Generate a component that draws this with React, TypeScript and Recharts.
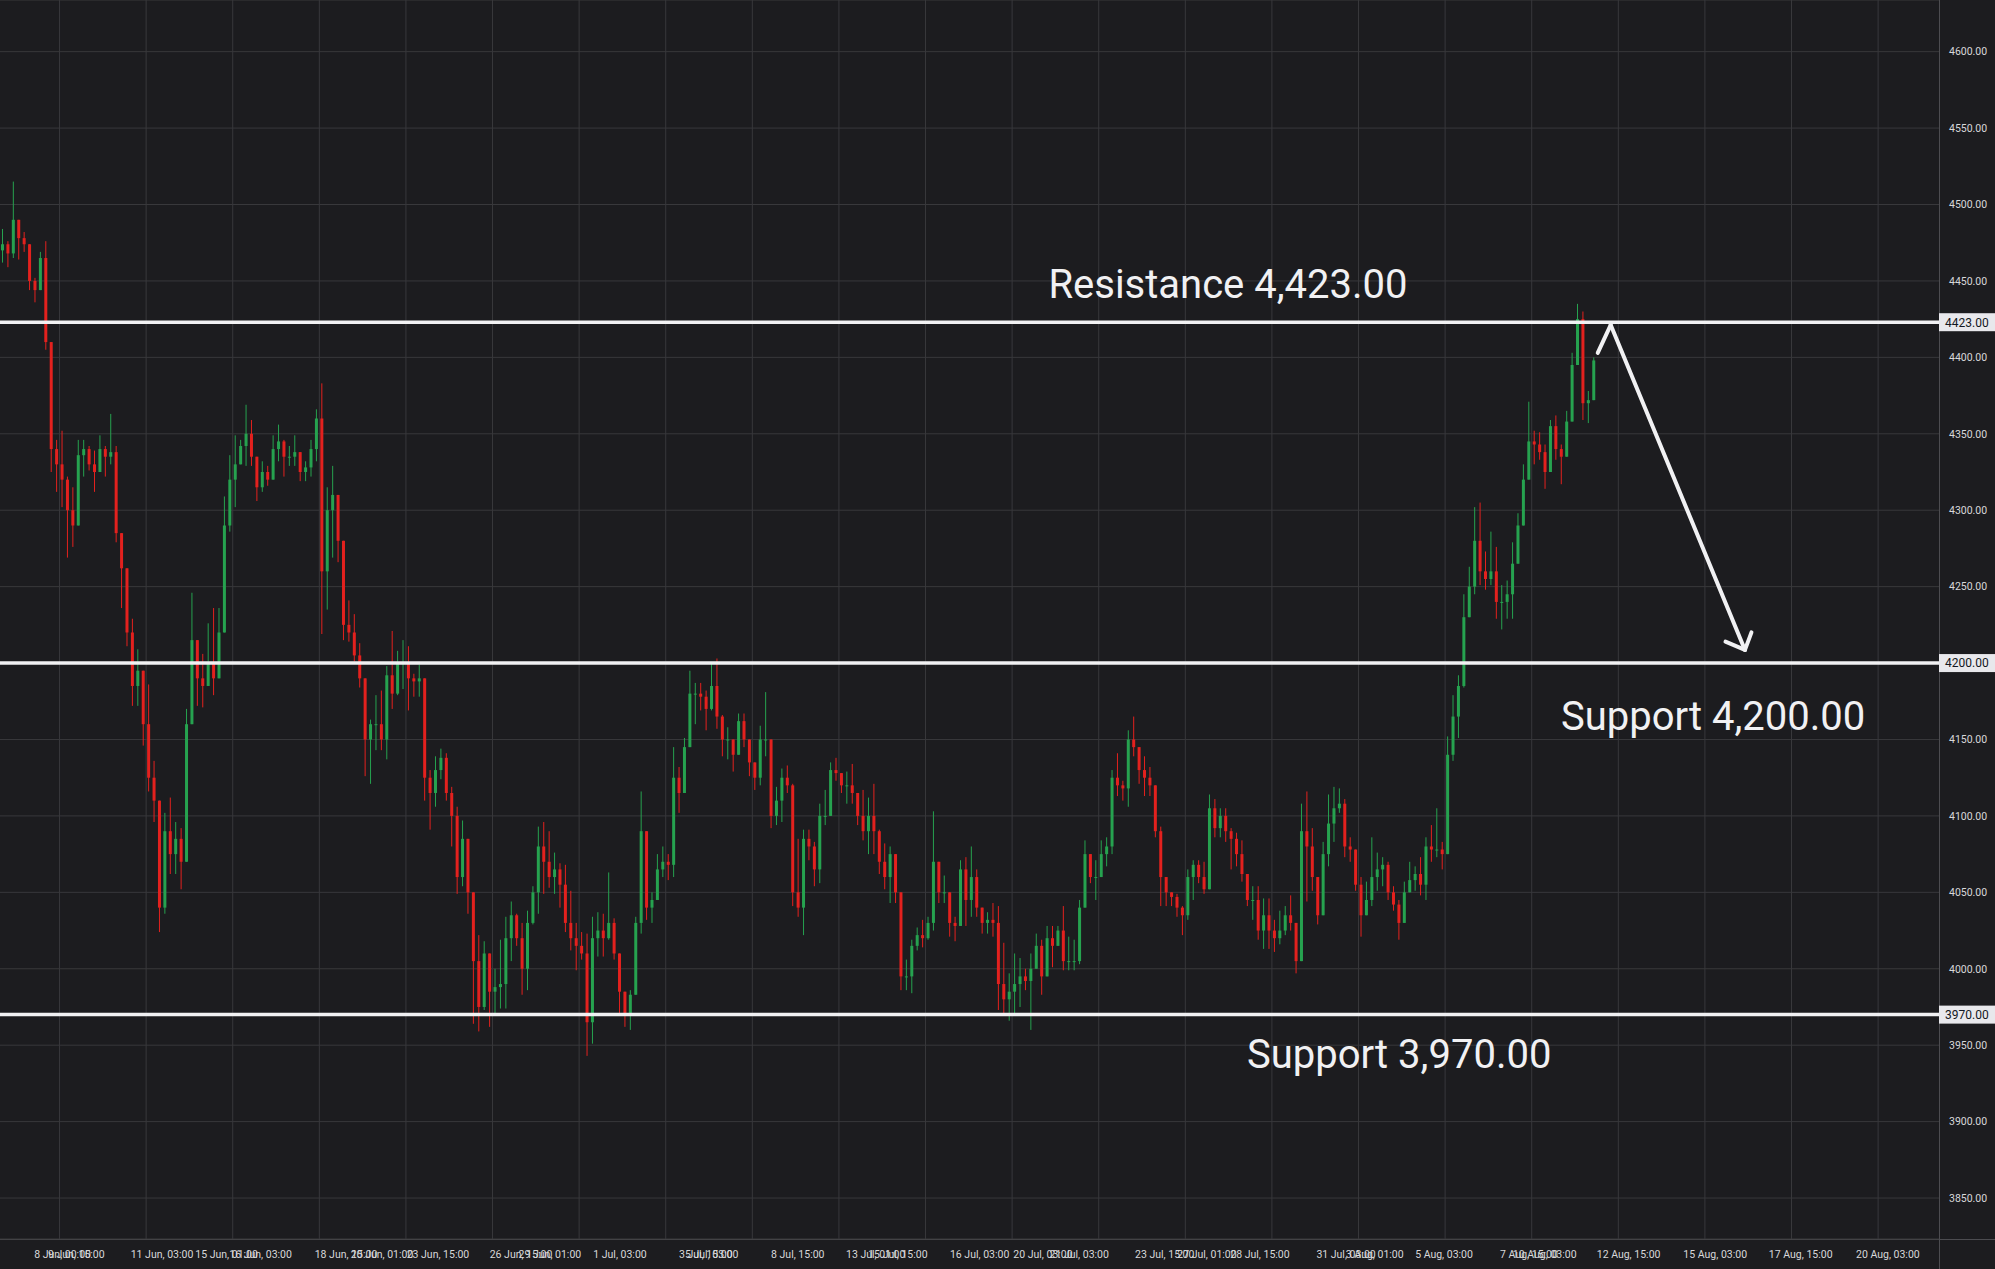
import React from 'react';
import {
  ComposedChart, Bar, XAxis, YAxis, CartesianGrid, ReferenceLine, ReferenceDot,
} from 'recharts';

const W = 1995;
const H = 1269;
const BG = '#1c1c1f';
const GRID = '#38383b';
const AXIS = '#4c4c50';
const TEXT = '#d8d8da';
const WHITE = '#f1f1f3';
const GREEN = '#26a24f';
const RED = '#e3211e';

const firstOpen = 4470;

// candles as [high, low, close]; each opens at the previous close
const juneA = [
  [4484, 4462, 4474], [4476, 4459, 4468], [4515, 4465, 4490], [4486, 4464, 4478], [4482, 4469, 4474], [4469, 4444, 4450], [4452, 4436, 4444], [4469, 4452, 4465],
  [4476, 4405, 4410], [4380, 4325, 4340], [4346, 4312, 4330], [4352, 4302, 4320], [4322, 4269, 4300], [4315, 4276, 4290], [4346, 4296, 4336], [4346, 4322, 4340],
  [4342, 4326, 4330], [4339, 4312, 4325], [4349, 4329, 4340], [4342, 4322, 4335], [4363, 4330, 4338], [4342, 4279, 4285], [4282, 4236, 4262], [4247, 4211, 4220],
  [4229, 4172, 4185], [4209, 4172, 4195], [4182, 4146, 4160], [4186, 4116, 4125], [4136, 4096, 4110], [4082, 4024, 4040], [4102, 4036, 4090], [4112, 4062, 4075],
  [4096, 4062, 4085], [4092, 4052, 4070], [4170, 4072, 4160], [4246, 4162, 4215], [4209, 4172, 4190], [4206, 4171, 4185], [4226, 4192, 4200], [4236, 4179, 4190],
  [4236, 4202, 4220], [4309, 4262, 4290], [4336, 4286, 4320], [4349, 4302, 4330], [4346, 4332, 4342], [4369, 4329, 4350], [4359, 4329, 4335], [4329, 4306, 4315],
  [4332, 4312, 4325], [4329, 4316, 4320], [4349, 4332, 4340], [4356, 4332, 4345], [4346, 4322, 4335], [4342, 4329, 4335], [4349, 4329, 4338], [4336, 4319, 4325],
  [4332, 4319, 4328], [4346, 4322, 4340], [4366, 4332, 4360], [4383, 4219, 4260], [4315, 4235, 4300], [4329, 4269, 4310], [4309, 4266, 4280],
];

const juneB = [
  [4262, 4215, 4225], [4241, 4214, 4220], [4232, 4201, 4205], [4213, 4184, 4190], [4184, 4126, 4150], [4163, 4121, 4160], [4179, 4143, 4160], [4182, 4143, 4150],
  [4198, 4137, 4192], [4221, 4170, 4180], [4208, 4179, 4200], [4215, 4183, 4200], [4211, 4169, 4190], [4193, 4178, 4188], [4199, 4178, 4190], [4190, 4110, 4125],
  [4130, 4091, 4115], [4139, 4106, 4130], [4144, 4124, 4138], [4141, 4110, 4115], [4119, 4080, 4100], [4106, 4049, 4060], [4097, 4054, 4085], [4079, 4036, 4050],
  [4043, 3964, 4005], [4022, 3959, 3975], [4018, 3973, 4010], [4006, 3962, 3985], [4000, 3971, 3988], [4019, 3974, 3990], [4034, 3974, 4020], [4044, 4005, 4035],
  [4036, 4015, 4020], [4030, 3983, 4000], [4038, 3986, 4030], [4054, 4029, 4050], [4093, 4036, 4080], [4096, 4049, 4070], [4090, 4053, 4060], [4076, 4049, 4065],
  [4069, 4040, 4055], [4068, 4024, 4030], [4051, 4012, 4020], [4030, 3999, 4015], [4024, 4006, 4010], [4023, 3943, 3965], [4034, 3951, 4020], [4037, 4008, 4025],
  [4036, 4008, 4020], [4063, 4019, 4030], [4033, 4006, 4010], [4010, 3971, 3985], [3982, 3962, 3970], [3986, 3960, 3983], [4034, 3983, 4030], [4116, 4023, 4090],
  [4089, 4032, 4040], [4050, 4030, 4045], [4075, 4045, 4065], [4080, 4060, 4070], [4075, 4058, 4068], [4145, 4060, 4125], [4132, 4102, 4115], [4151, 4117, 4145],
  [4195, 4150, 4180], [4187, 4160, 4180], [4187, 4169, 4178], [4182, 4156, 4170], [4200, 4169, 4185], [4203, 4157, 4165], [4166, 4139, 4150], [4158, 4137, 4150],
  [4150, 4129, 4140], [4167, 4150, 4162], [4167, 4145, 4150], [4148, 4126, 4135], [4134, 4117, 4125], [4159, 4120, 4150], [4181, 4139, 4150],
];

const july = [
  [4149, 4092, 4100], [4119, 4094, 4110], [4131, 4096, 4125], [4133, 4115, 4120], [4121, 4041, 4050], [4085, 4034, 4040], [4091, 4022, 4085], [4091, 4071, 4080],
  [4083, 4054, 4065], [4108, 4056, 4100], [4117, 4094, 4100], [4135, 4106, 4130], [4138, 4123, 4128], [4128, 4115, 4120], [4129, 4108, 4120], [4134, 4108, 4115],
  [4115, 4094, 4100], [4117, 4084, 4090], [4112, 4075, 4100], [4121, 4075, 4090], [4091, 4062, 4070], [4082, 4052, 4060], [4080, 4043, 4075], [4075, 4043, 4050],
  [4047, 3986, 3995], [4006, 3986, 3995], [4019, 3984, 4015], [4027, 4012, 4022], [4032, 4014, 4020], [4034, 4019, 4030], [4103, 4025, 4070], [4067, 4043, 4050],
  [4061, 4043, 4050], [4042, 4021, 4030], [4034, 4018, 4028], [4071, 4030, 4065], [4073, 4028, 4045], [4080, 4034, 4060], [4065, 4034, 4040], [4038, 4023, 4030],
  [4037, 4023, 4032], [4043, 4021, 4030], [4041, 3973, 3990], [4017, 3971, 3980], [3997, 3966, 3985], [4010, 3971, 3990], [4007, 3975, 3995], [4000, 3986, 3992],
  [4010, 3960, 4000], [4023, 4001, 4015], [4019, 3983, 3995], [4028, 4001, 4020], [4028, 4001, 4015], [4028, 4015, 4025], [4041, 3999, 4005], [4021, 3999, 4005],
  [4019, 3999, 4005], [4045, 4003, 4040], [4084, 4043, 4075], [4073, 4056, 4060], [4071, 4045, 4060], [4084, 4065, 4075], [4086, 4067, 4080], [4130, 4075, 4125],
  [4141, 4113, 4120], [4123, 4110, 4118], [4156, 4106, 4150], [4165, 4139, 4145], [4143, 4121, 4130], [4139, 4113, 4125], [4132, 4113, 4120], [4119, 4086, 4090],
  [4093, 4041, 4060], [4060, 4041, 4050], [4050, 4041, 4047], [4049, 4034, 4040], [4041, 4022, 4035], [4065, 4032, 4060], [4071, 4045, 4068], [4071, 4056, 4060],
];

const august = [
  [4070, 4049, 4052], [4114, 4083, 4105], [4111, 4086, 4092], [4105, 4086, 4100], [4105, 4083, 4090], [4092, 4065, 4085], [4089, 4067, 4075], [4084, 4057, 4062],
  [4060, 4041, 4045], [4054, 4032, 4045], [4054, 4019, 4025], [4046, 4013, 4035], [4046, 4013, 4025], [4032, 4011, 4020], [4038, 4016, 4025], [4041, 4022, 4035],
  [4048, 4025, 4030], [4029, 3997, 4005], [4108, 4007, 4090], [4116, 4044, 4080], [4092, 4051, 4060], [4060, 4029, 4035], [4083, 4035, 4075], [4114, 4067, 4095],
  [4119, 4083, 4105], [4118, 4102, 4108], [4111, 4073, 4080], [4086, 4070, 4078], [4073, 4051, 4055], [4060, 4021, 4035], [4057, 4035, 4045], [4086, 4041, 4060],
  [4076, 4051, 4065], [4073, 4054, 4068], [4070, 4045, 4050], [4054, 4038, 4042], [4045, 4019, 4030], [4057, 4032, 4050], [4070, 4051, 4058], [4067, 4051, 4062],
  [4073, 4048, 4055], [4086, 4045, 4080], [4094, 4070, 4078], [4105, 4073, 4078], [4083, 4065, 4075], [4152, 4076, 4140], [4179, 4136, 4165], [4192, 4151, 4185],
  [4245, 4184, 4230], [4263, 4232, 4250], [4302, 4245, 4280], [4305, 4251, 4260], [4273, 4248, 4255], [4286, 4251, 4260], [4276, 4229, 4240], [4251, 4222, 4240],
  [4254, 4229, 4245], [4279, 4229, 4265], [4298, 4270, 4290], [4330, 4295, 4320], [4371, 4324, 4345], [4352, 4330, 4343], [4351, 4333, 4338], [4343, 4314, 4325],
  [4359, 4325, 4355], [4362, 4333, 4340], [4343, 4317, 4335], [4365, 4346, 4358], [4403, 4368, 4395], [4435, 4397, 4425], [4430, 4359, 4370], [4378, 4357, 4372],
  [4400, 4378, 4398],
];

// time axis, in candle slots (the right part is empty future space)
const xDomain = [0, 358.25];
const xTickPos = [
  11.57, 14.1, 29.93, 41.87, 48.15, 63.93, 70.58, 80.92, 96.26, 101.6, 114.55, 130.4, 131.5, 147.4, 161.8, 165.9,
  181.0, 192.7, 199.4, 215.2, 223.0, 232.8, 248.7, 254.0, 266.8, 282.5, 285.4, 300.9, 316.9, 332.7, 348.8,
];
const xTickLabels = [
  '8 Jun, 00:00', '9 Jun, 15:00', '11 Jun, 03:00', '15 Jun, 01:00', '16 Jun, 03:00', '18 Jun, 15:00', '20 Jun, 01:00', '23 Jun, 15:00',
  '26 Jun, 15:00', '29 Jun, 01:00', '1 Jul, 03:00', '3 Jul, 15:00', '5 Jul, 03:00', '8 Jul, 15:00', '13 Jul, 01:00', '15 Jul, 15:00',
  '16 Jul, 03:00', '20 Jul, 03:00', '21 Jul, 03:00', '23 Jul, 15:00', '27 Jul, 01:00', '28 Jul, 15:00', '31 Jul, 03:00', '3 Aug, 01:00',
  '5 Aug, 03:00', '7 Aug, 15:00', '10 Aug, 03:00', '12 Aug, 15:00', '15 Aug, 03:00', '17 Aug, 15:00', '20 Aug, 03:00',
];
const gridX = Array.from({ length: 22 }, (_, k) => 11 + 16 * k);

const yDomain = [3823.2, 4633.8];
const yTicks = [3850, 3900, 3950, 4000, 4050, 4100, 4150, 4200, 4250, 4300, 4350, 4400, 4450, 4500, 4550, 4600];

// drawn levels and notes
const levels = [4423, 4200, 3970];
const notes = [
  { text: 'Resistance 4,423.00', at: 193.7, price: 4438.7 },
  { text: 'Support 4,200.00', at: 288.4, price: 4156.2 },
  { text: 'Support 3,970.00', at: 230.4, price: 3935.4 },
];
const arrowPath = [
  { x: 295.2, y: 4402.9 },
  { x: 297.6, y: 4421.2 },
  { x: 322.4, y: 4208.6 },
];
const arrowHead = [
  { x: 318.8, y: 4214.0 },
  { x: 323.6, y: 4220.1 },
];

const candles = [...juneA, ...juneB, ...july, ...august];
const data = candles.map(([high, low, close], i) => {
  const open = i === 0 ? firstOpen : candles[i - 1][2];
  const hi = Math.max(high, open, close);
  const lo = Math.min(low, open, close);
  return { t: i + 0.5, open, close, high: hi, low: lo, range: [lo, hi] };
});

const Candle = (props: any) => {
  const { x, y, width, height, payload } = props;
  if (x == null || y == null || !payload) return null;
  const top = Math.min(y, y + height);
  const h = Math.abs(height);
  const span = payload.high - payload.low;
  const k = span > 0 ? h / span : 0;
  const yOf = (v: number) => top + (payload.high - v) * k;
  const up = payload.close >= payload.open;
  const color = up ? GREEN : RED;
  const b1 = yOf(Math.max(payload.open, payload.close));
  const b2 = yOf(Math.min(payload.open, payload.close));
  const cx = x + width / 2;
  return (
    <g>
      <line x1={cx} x2={cx} y1={top} y2={top + h} stroke={color} strokeWidth={1} />
      <rect x={x} y={b1} width={width} height={Math.max(1, b2 - b1)} fill={color} />
    </g>
  );
};

const XTick = (props: any) => {
  const { x, y, payload } = props;
  const idx = xTickPos.indexOf(payload.value);
  return (
    <text x={x} y={y + 19} textAnchor="middle" fill={TEXT} fontSize={10.5} fontFamily="Roboto, sans-serif">
      {xTickLabels[idx]}
    </text>
  );
};

const YTick = (props: any) => {
  const { x, y, payload } = props;
  if (levels.includes(payload.value)) return null;
  return (
    <text x={x + 10} y={y} dy="0.36em" textAnchor="start" fill={TEXT} fontSize={10.5} fontFamily="Roboto, sans-serif">
      {payload.value.toFixed(2)}
    </text>
  );
};

const PriceTag = (props: any) => {
  const { viewBox, value } = props;
  if (!viewBox) return null;
  const x = viewBox.x + viewBox.width;
  const y = viewBox.y;
  return (
    <g>
      <rect x={x} y={y - 9} width={56} height={18} fill="#e8e8ec" />
      <text x={x + 6} y={y} dy="0.36em" fill="#131722" fontSize={12} fontFamily="Roboto, sans-serif">
        {value.toFixed(2)}
      </text>
    </g>
  );
};

const NoteText = (props: any) => {
  const { viewBox, text } = props;
  if (!viewBox) return null;
  return (
    <text
      x={viewBox.x + viewBox.width / 2}
      y={viewBox.y + viewBox.height / 2}
      fill={WHITE}
      fontSize={40}
      fontFamily="Roboto, sans-serif"
      textAnchor="start"
    >
      {text}
    </text>
  );
};

export default function App() {
  return (
    <div style={{ position: 'relative', width: W, height: H, background: BG, overflow: 'hidden' }}>
      <style>{`body{margin:0;background:${BG};}`}</style>
      <div style={{ position: 'absolute', left: 0, top: 1239, width: W, height: 1, background: AXIS }} />
      <div style={{ position: 'absolute', left: 1939, top: 0, width: 1, height: H, background: AXIS }} />
      <div style={{ position: 'absolute', left: 0, top: 0 }}>
        <ComposedChart width={W} height={H} data={data} margin={{ top: 0, right: 0, bottom: 0, left: 0 }}>
          <CartesianGrid vertical={false} stroke={GRID} />
          <XAxis
            type="number"
            dataKey="t"
            domain={xDomain}
            ticks={xTickPos}
            interval={0}
            height={30}
            axisLine={false}
            tickLine={false}
            tickSize={0}
            tickMargin={0}
            tick={<XTick />}
            allowDataOverflow
          />
          <YAxis
            orientation="right"
            type="number"
            domain={yDomain}
            ticks={yTicks}
            interval={0}
            width={56}
            axisLine={false}
            tickLine={false}
            tickSize={0}
            tickMargin={0}
            tick={<YTick />}
            allowDataOverflow
          />
          {gridX.map((g) => (
            <ReferenceLine key={`g${g}`} x={g} stroke={GRID} strokeWidth={1} />
          ))}
          <Bar dataKey="range" barSize={3} shape={<Candle />} isAnimationActive={false} />
          {levels.map((lv) => (
            <ReferenceLine key={`l${lv}`} y={lv} stroke={WHITE} strokeWidth={3.5} label={<PriceTag value={lv} />} />
          ))}
          <ReferenceLine segment={[arrowPath[0], arrowPath[1]]} stroke={WHITE} strokeWidth={4} strokeLinecap="round" />
          <ReferenceLine segment={[arrowPath[1], arrowPath[2]]} stroke={WHITE} strokeWidth={4} strokeLinecap="round" />
          {arrowHead.map((p, i) => (
            <ReferenceLine key={`a${i}`} segment={[arrowPath[2], p]} stroke={WHITE} strokeWidth={4} strokeLinecap="round" />
          ))}
          {notes.map((n) => (
            <ReferenceDot
              key={n.text}
              x={n.at}
              y={n.price}
              r={0}
              fill="none"
              stroke="none"
              label={<NoteText text={n.text} />}
            />
          ))}
        </ComposedChart>
      </div>
    </div>
  );
}
